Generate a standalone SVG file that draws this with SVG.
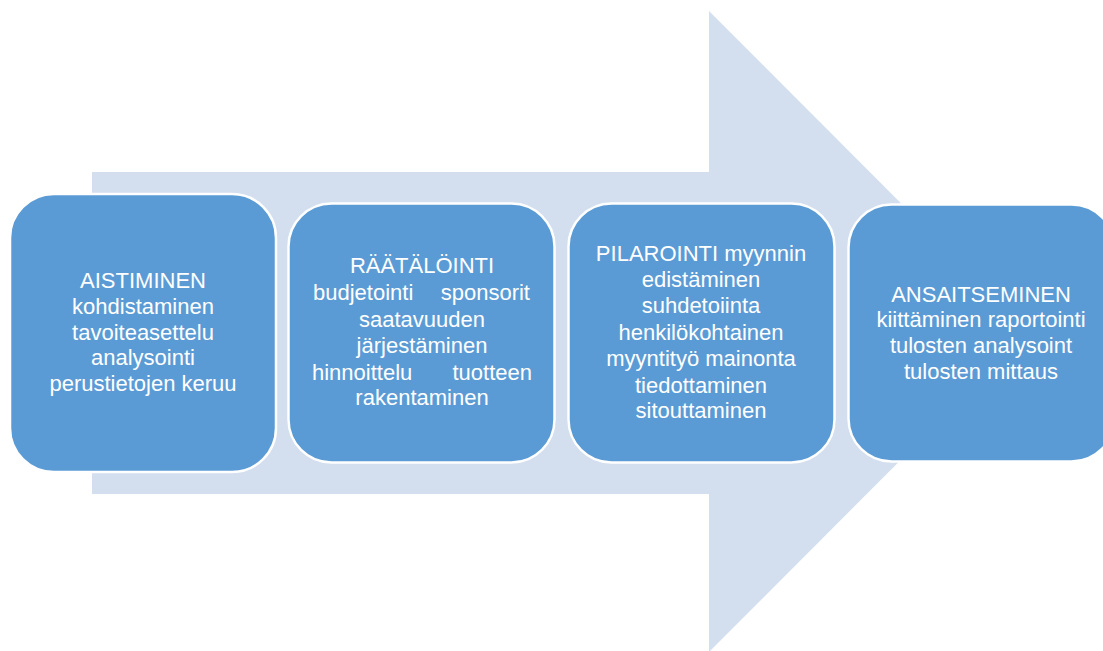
<svg xmlns="http://www.w3.org/2000/svg" width="1103" height="651" viewBox="0 0 1103 651">
<style>
.box{fill:#5B9BD5;stroke:#FFFFFF;stroke-width:2.5}
.t{font-family:"Liberation Sans",Arial,sans-serif;font-size:22px;fill:#FFFFFF;text-anchor:middle}
.l{text-anchor:start}
.r{text-anchor:end}
</style>
<rect width="1103" height="651" fill="#FFFFFF"/>
<g id="arrow">
<polygon points="92,172 709,172 709,11 1029,331.5 709,652 709,494 92,494" fill="#D3DEEF"/>
</g>
<g id="node1">
<rect class="box" x="10" y="194" width="266" height="278" rx="44" ry="44"/>
<text class="t" x="143" y="288">AISTIMINEN</text>
<text class="t" x="143" y="314">kohdistaminen</text>
<text class="t" x="143" y="340">tavoiteasettelu</text>
<text class="t" x="143" y="365">analysointi</text>
<text class="t" x="143" y="391">perustietojen keruu</text>
</g>
<g id="node2">
<rect class="box" x="288.5" y="203.5" width="266" height="259" rx="43" ry="43"/>
<text class="t" x="422" y="273">RÄÄTÄLÖINTI</text>
<text class="t l" x="313" y="300">budjetointi</text>
<text class="t r" x="530" y="300">sponsorit</text>
<text class="t" x="422" y="327">saatavuuden</text>
<text class="t" x="422" y="353">järjestäminen</text>
<text class="t l" x="312" y="380">hinnoittelu</text>
<text class="t r" x="532" y="380">tuotteen</text>
<text class="t" x="422" y="405">rakentaminen</text>
</g>
<g id="node3">
<rect class="box" x="568.5" y="203.5" width="266" height="259" rx="43" ry="43"/>
<text class="t" x="701" y="261">PILAROINTI  myynnin</text>
<text class="t" x="701" y="287">edistäminen</text>
<text class="t" x="701" y="313">suhdetoiinta</text>
<text class="t" x="701" y="340">henkilökohtainen</text>
<text class="t" x="701" y="366">myyntityö mainonta</text>
<text class="t" x="701" y="393">tiedottaminen</text>
<text class="t" x="701" y="418">sitouttaminen</text>
</g>
<g id="node4">
<rect class="box" x="848.5" y="204.5" width="266" height="257" rx="43" ry="43"/>
<text class="t" x="981" y="302">ANSAITSEMINEN</text>
<text class="t" x="981" y="327">kiittäminen raportointi</text>
<text class="t" x="981" y="353">tulosten analysoint</text>
<text class="t" x="981" y="379">tulosten mittaus</text>
</g>
<g id="connectors"></g>
</svg>
